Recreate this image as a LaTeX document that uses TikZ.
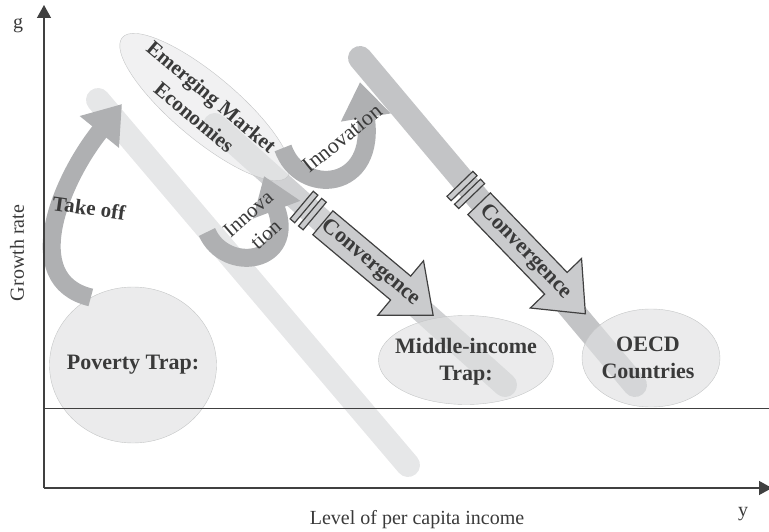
\documentclass[tikz,border=0pt]{standalone}
\usepackage{fontspec}
\setmainfont{Liberation Serif}
\usepackage{tikz}
\usetikzlibrary{arrows.meta, positioning, shapes.geometric, shapes.arrows}

\definecolor{axisgray}{HTML}{404040}
\definecolor{textgray}{HTML}{3A3A3A}
\definecolor{bandlight}{HTML}{E6E7E8}
\definecolor{bandmid}{HTML}{D0D1D3}
\definecolor{banddark}{HTML}{C3C4C6}
\definecolor{trapfill}{HTML}{E0E1E2}
\definecolor{trapline}{HTML}{C4C5C6}
\definecolor{arrowfill}{HTML}{CACBCD}
\definecolor{curvegray}{HTML}{AFB0B2}

\begin{document}
\begin{tikzpicture}[x=1pt, y=-1pt,
    every node/.style={text=textgray},
    band/.style={line width=24pt, line cap=round},
    trap/.style={ellipse, draw=trapline, fill=trapfill, fill opacity=0.65, inner sep=0pt},
    traptext/.style={font=\fontsize{22}{27}\selectfont\bfseries, align=center},
    converge/.style={single arrow, draw=axisgray, line width=1.2pt, fill=arrowfill,
        single arrow head extend=20pt, single arrow tip angle=80,
        font=\fontsize{22}{22}\selectfont\bfseries, text height=14pt, text depth=4pt,
        inner xsep=1pt, inner ysep=6pt, anchor=tail},
    breakbar/.style={draw=axisgray, line width=1.2pt, fill=arrowfill,
        minimum width=6pt, minimum height=36pt, inner sep=0pt},
    hook/.style={line width=18pt, draw=curvegray, -{Triangle[length=36pt, width=48pt]}},
    axislabel/.style={font=\fontsize{20}{22}\selectfont},
    axis/.style={draw=axisgray, line width=1.3pt}
  ]
  \useasboundingbox (0,0) rectangle (769,532);

  % diagonal bands
  \coordinate (lowtop) at (98,100);
  \coordinate (lowend) at (408,465);
  \coordinate (midtop) at (215,125);
  \coordinate (midend) at (505,385);
  \coordinate (hightop) at (360,58);
  \coordinate (highend) at (635,385);
  \draw[band, bandlight] (lowtop) -- (lowend);
  \draw[band, bandmid] (midtop) -- (midend);
  \draw[band, banddark] (hightop) -- (highend);

  % country groups
  \node[trap, minimum width=167pt, minimum height=156pt] (poverty) at (133,365) {};
  \node[trap, rotate=-40, minimum width=216pt, minimum height=64pt, fill=trapfill!70!white] (emerging) at (205,107) {};
  \node[trap, minimum width=175pt, minimum height=89pt] (middle) at (466,360) {};
  \node[trap, minimum width=138pt, minimum height=98pt] (oecd) at (651,358) {};

  % curved arrows
  \coordinate (takeofftip) at (122,104);
  \coordinate (innotail) at (283,148);
  \coordinate (innotip) at (360,82);
  \coordinate (lowinnotail) at (207,232);
  \coordinate (lowinnotip) at (264,176);
  \draw[hook] (poverty.122) .. controls (18,280) and (62,178) .. (takeofftip);
  \draw[hook] (innotail) .. controls (300,197) and (378,192) .. (innotip);
  \draw[hook] (lowinnotail) .. controls (225,274) and (297,264) .. (lowinnotip);

  % convergence arrows
  \node[breakbar, rotate=-40] (midbar1) at (304,207) {};
  \node[breakbar, rotate=-40] (midbar2) at (312.4,214.1) {};
  \node[converge, rotate=-40, minimum height=140pt] (midconv) at (322.4,222.4) {Convergence};
  \node[breakbar, rotate=-46] (highbar1) at (462,186) {};
  \node[breakbar, rotate=-46] (highbar2) at (469.6,193.9) {};
  \node[converge, rotate=-46, minimum height=153pt] (highconv) at (478.7,203.3) {Convergence};

  % texts
  \node[traptext] (povertytext) at (poverty) {Poverty Trap:};
  \node[traptext, rotate=-40, font=\fontsize{21}{27}\selectfont\bfseries] (emergingtext) at (203,107) {Emerging Market\\Economies};
  \node[traptext] (middletext) at (466,362) {Middle-income\\Trap:};
  \node[traptext] (oecdtext) at (648,358) {OECD\\Countries};
  \node[font=\fontsize{21}{22}\selectfont\bfseries, rotate=-8] (takeoff) at (89,208) {Take off};
  \node[rotate=39, font=\fontsize{22}{24}\selectfont] (innotext) at (342,138) {Innovation};
  \node[rotate=41, align=center, font=\fontsize{21}{27}\selectfont] (lowinnotext) at (257,224) {Innova\\tion};

  % axes
  \coordinate (origin) at (44,488);
  \coordinate (ytip) at (44,5);
  \coordinate (xtip) at (772,488);
  \coordinate (zeroleft) at (44,408);
  \coordinate (zeroright) at (769,408);
  \draw[axis, -{Triangle[length=13pt, width=14pt]}] (origin) -- (ytip);
  \draw[axis, -{Triangle[length=13pt, width=14pt]}] (origin) -- (xtip);
  \draw[axisgray, line width=1pt] (zeroleft) -- (zeroright);

  \node[axislabel] (glabel) at (18,26) {g};
  \node[axislabel] (ylabel) at (743,514) {y};
  \node[axislabel, rotate=90] (growth) at (17,253) {Growth rate};
  \node[axislabel] (income) at (417,520) {Level of per capita income};
\end{tikzpicture}
\end{document}
